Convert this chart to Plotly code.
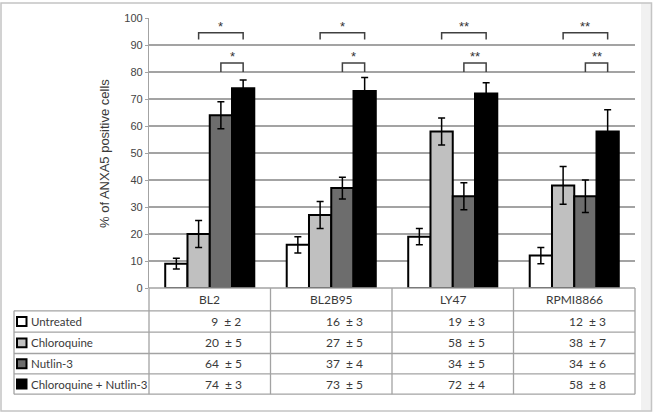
import plotly.graph_objects as go

# ---------------- data ----------------
cell_lines = ["BL2", "BL2B95", "LY47", "RPMI8866"]
treatments = ["Untreated", "Chloroquine", "Nutlin-3", "Chloroquine + Nutlin-3"]
untreated = [9, 16, 19, 12]
untreated_err = [2, 3, 3, 3]
chloroquine = [20, 27, 58, 38]
chloroquine_err = [5, 5, 5, 7]
nutlin = [64, 37, 34, 34]
nutlin_err = [5, 4, 5, 6]
combo = [74, 73, 72, 58]
combo_err = [3, 5, 4, 8]
sig_upper = ["*", "*", "**", "**"]   # Chloroquine vs Chloroquine + Nutlin-3
sig_lower = ["*", "*", "**", "**"]   # Nutlin-3 vs Chloroquine + Nutlin-3
y_ticks = list(range(0, 101, 10))
y_title = "% of ANXA5 positive cells"

# ---------------- styling / layout constants ----------------
W, H = 653, 414
PL, PR, PT, PB = 149, 635, 16, 288
colors = ["#ffffff", "#c0c0c0", "#6d6d6d", "#000000"]
BARGAP = 0.267
bw = (1 - BARGAP) / 4
GRID = "#a3a3a3"
TXT = "#3a3a3a"
TABLE_FONT = "Lato"
AX_FONT = "Liberation Sans"


def xp(px):
    return (px - PL) / (PR - PL)


def yp(py):
    return (PB - py) / (PB - PT)


series_vals = [untreated, chloroquine, nutlin, combo]
series_errs = [untreated_err, chloroquine_err, nutlin_err, combo_err]
xs = list(range(len(cell_lines)))

fig = go.Figure()
for name, vals, errs, col in zip(treatments, series_vals, series_errs, colors):
    fig.add_trace(go.Bar(
        x=xs, y=vals, name=name,
        marker=dict(color=col, line=dict(color="black", width=2)),
        error_y=dict(type="data", array=errs, color="black", thickness=1.5, width=3.5),
        showlegend=False, hoverinfo="skip",
    ))

shapes = []
annotations = []

# significance brackets
def bracket(i, k1, k2, ylo, yhi, label):
    x1 = i + (k1 - 1.5) * bw
    x2 = i + (k2 - 1.5) * bw
    shapes.append(dict(type="path", xref="x", yref="y",
                       path=f"M {x1},{ylo} L {x1},{yhi} L {x2},{yhi} L {x2},{ylo}",
                       line=dict(color="#404040", width=1.5)))
    annotations.append(dict(x=(x1 + x2) / 2, y=yhi, xref="x", yref="y",
                            text=label, showarrow=False, yanchor="bottom",
                            yshift=-3,
                            font=dict(family=AX_FONT, size=13, color="#333333")))


for i in xs:
    bracket(i, 1, 3, 92, 94.5, sig_upper[i])
    bracket(i, 2, 3, 80, 83.3, sig_lower[i])

# y-axis title
annotations.append(dict(x=xp(105), y=yp(153), xref="paper", yref="paper",
                        text=y_title, textangle=-90, showarrow=False,
                        xanchor="center", yanchor="middle",
                        font=dict(family=AX_FONT, size=13, color=TXT)))

# ---------------- data table ----------------
LEFT = 14
row_edges = [288, 311, 332.5, 354, 374.5, 395]
col_w = (PR - PL) / len(cell_lines)
col_edges = [PL + j * col_w for j in range(len(cell_lines) + 1)]
tline = dict(color=GRID, width=1.3)

# horizontal lines
shapes.append(dict(type="line", xref="paper", yref="paper", x0=xp(PL), x1=xp(PR),
                   y0=yp(row_edges[0]), y1=yp(row_edges[0]), line=tline))
for r in row_edges[1:]:
    shapes.append(dict(type="line", xref="paper", yref="paper", x0=xp(LEFT), x1=xp(PR),
                       y0=yp(r), y1=yp(r), line=tline))
# vertical lines
shapes.append(dict(type="line", xref="paper", yref="paper", x0=xp(LEFT), x1=xp(LEFT),
                   y0=yp(row_edges[1]), y1=yp(row_edges[-1]), line=tline))
for c in col_edges:
    shapes.append(dict(type="line", xref="paper", yref="paper", x0=xp(c), x1=xp(c),
                       y0=yp(row_edges[0]), y1=yp(row_edges[-1]), line=tline))

# header labels
for j, name in enumerate(cell_lines):
    cx = col_edges[j] + col_w / 2
    annotations.append(dict(x=xp(cx), y=yp((row_edges[0] + row_edges[1]) / 2),
                            xref="paper", yref="paper", text=name, showarrow=False,
                            xanchor="center", yanchor="middle",
                            font=dict(family=TABLE_FONT, size=12, color=TXT)))

# rows
for r, (name, vals, errs, col) in enumerate(zip(treatments, series_vals, series_errs, colors)):
    top, bot = row_edges[r + 1], row_edges[r + 2]
    cy = (top + bot) / 2
    shapes.append(dict(type="rect", xref="paper", yref="paper",
                       x0=xp(17), x1=xp(26.5), y0=yp(cy - 4.5), y1=yp(cy + 4.5),
                       fillcolor=col, line=dict(color="black", width=2)))
    annotations.append(dict(x=xp(29), y=yp(cy), xref="paper", yref="paper",
                            text=name, showarrow=False, xanchor="left", yanchor="middle",
                            font=dict(family=TABLE_FONT, size=11.5, color=TXT)))
    for j in range(len(cell_lines)):
        cx = col_edges[j] + col_w / 2
        v = str(vals[j])
        if len(v) == 1:
            v = "\u00a0\u00a0" + v
        txt = f"{v}\u00a0\u00a0± {errs[j]}"
        annotations.append(dict(x=xp(cx - 7), y=yp(cy), xref="paper", yref="paper",
                                text=txt, showarrow=False, xanchor="left", yanchor="middle",
                                font=dict(family=TABLE_FONT, size=12, color=TXT)))

# outer frame
shapes.append(dict(type="rect", xref="paper", yref="paper", layer="below",
                   x0=xp(641), x1=xp(651), y0=yp(1), y1=yp(411.5),
                   fillcolor="#f1f1f1", line=dict(width=0)))
shapes.append(dict(type="rect", xref="paper", yref="paper",
                   x0=xp(1), x1=xp(651.5), y0=yp(0.8), y1=yp(411.8),
                   line=dict(color="#c4c4c4", width=1.5)))

fig.update_layout(
    width=W, height=H,
    margin=dict(l=PL, r=W - PR, t=PT, b=H - PB, pad=0),
    paper_bgcolor="white", plot_bgcolor="white",
    barmode="group", bargap=BARGAP, bargroupgap=0,
    shapes=shapes, annotations=annotations,
    xaxis=dict(range=[-0.5, 3.5], showticklabels=False, showgrid=False,
               zeroline=False, showline=False, ticks="", fixedrange=True),
    yaxis=dict(range=[0, 100], tickvals=y_ticks, showgrid=True, gridcolor=GRID,
               gridwidth=1.5, zeroline=False, showline=True, linecolor=GRID,
               linewidth=1.3, ticks="outside", ticklen=3, tickcolor=GRID,
               tickfont=dict(family=AX_FONT, size=11, color="#444444"),
               fixedrange=True),
)

fig.write_html("out.html", config={"displayModeBar": False},
               post_script="document.body.style.margin='0';")
